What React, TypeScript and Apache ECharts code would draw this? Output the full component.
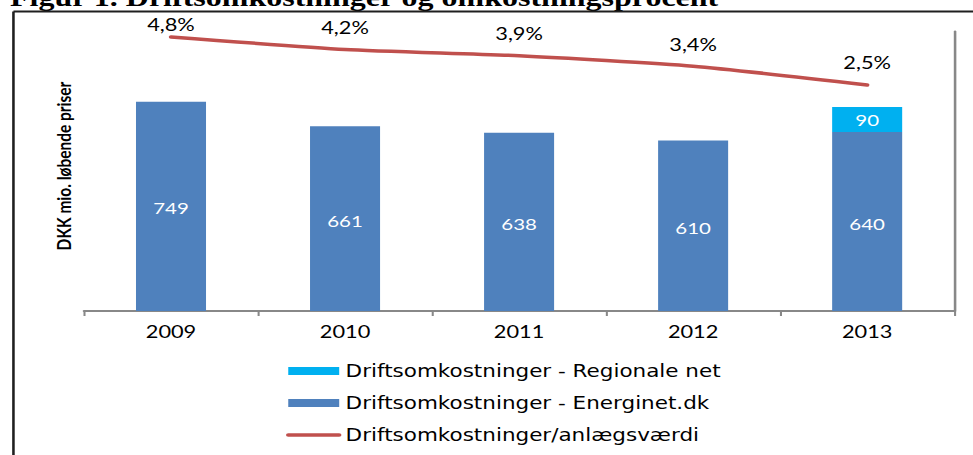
import React, { useEffect, useRef } from "react";
import * as echarts from "echarts";

const categories = ["2009", "2010", "2011", "2012", "2013"];
const energinetValues = [749, 661, 638, 610, 640];
const regionalValues: (number | null)[] = [null, null, null, null, 90];
const ratioValues = [4.8, 4.2, 3.9, 3.4, 2.5];

const seriesNames = {
  regional: "Driftsomkostninger - Regionale net",
  energinet: "Driftsomkostninger - Energinet.dk",
  ratio: "Driftsomkostninger/anlægsværdi",
};
const titleText = "Figur 1. Driftsomkostninger og omkostningsprocent";
const yAxisTitle = "DKK mio. løbende priser";

const W = 760;
const H = 455;
const SX = 973 / W;
const FONT = "Lato, 'Noto Sans', sans-serif";
const LEGEND_FONT = "'DejaVu Sans', 'Open Sans', sans-serif";

export default function App() {
  const ref = useRef<HTMLDivElement>(null);
  useEffect(() => {
    if (!ref.current) return;
    const chart = echarts.init(ref.current, null, { renderer: "svg" });
    chart.setOption({
      animation: false,
      backgroundColor: "#ffffff",
      textStyle: { fontFamily: FONT },
      grid: { left: 65.6, right: 14.7, top: 31.5, bottom: 144, containLabel: false },
      legend: {
        orient: "vertical",
        left: 223.4,
        top: 361,
        padding: 0,
        itemWidth: 39.8,
        itemHeight: 8,
        itemGap: 12,
        textStyle: { fontFamily: LEGEND_FONT, fontSize: 16.8, color: "#000", lineHeight: 20 },
        data: [
          { name: seriesNames.regional, icon: "rect" },
          { name: seriesNames.energinet, icon: "rect" },
          {
            name: seriesNames.ratio,
            itemStyle: { opacity: 0 },
            lineStyle: { width: 3.5, color: "#C0504D" },
          },
        ],
      },
      xAxis: {
        type: "category",
        data: categories,
        axisLine: { onZero: false, lineStyle: { color: "#888888", width: 2 } },
        axisTick: { show: true, length: 5, lineStyle: { color: "#888888", width: 1.6 } },
        axisLabel: { fontFamily: FONT, fontSize: 17, color: "#000", margin: 12 },
      },
      yAxis: [
        {
          type: "value",
          min: 0,
          max: 1000,
          show: false,
          splitLine: { show: false },
        },
        {
          type: "value",
          min: -8.33,
          max: 5.06,
          position: "right",
          axisLine: { show: true, lineStyle: { color: "#888888", width: 2 } },
          axisTick: { show: false },
          axisLabel: { show: false },
          splitLine: { show: false },
        },
      ],
      series: [
        {
          name: seriesNames.energinet,
          type: "bar",
          stack: "total",
          barWidth: 54.7,
          data: energinetValues,
          itemStyle: { color: "#4F81BD" },
          label: {
            show: true,
            position: "inside",
            offset: [0, 2],
            color: "#fff",
            fontFamily: FONT,
            fontSize: 16,
          },
        },
        {
          name: seriesNames.regional,
          type: "bar",
          stack: "total",
          barWidth: 54.7,
          data: regionalValues,
          itemStyle: { color: "#00B0F0" },
          label: {
            show: true,
            position: "inside",
            color: "#fff",
            fontFamily: FONT,
            fontSize: 16,
          },
        },
        {
          name: seriesNames.ratio,
          type: "line",
          yAxisIndex: 1,
          smooth: 0.2,
          symbol: "circle",
          symbolSize: 1,
          showSymbol: true,
          lineStyle: { color: "#C0504D", width: 3.5, cap: "round" },
          itemStyle: { color: "#C0504D" },
          data: ratioValues.map((v, i) =>
            i === 0 ? { value: v, label: { distance: 3 } } : v
          ),
          label: {
            show: true,
            position: "top",
            distance: 13,
            color: "#000",
            fontFamily: FONT,
            fontSize: 17,
            formatter: (p: any) => String(p.value).replace(".", ",") + "%",
          },
        },
      ],
      graphic: [
        {
          type: "text",
          x: 7.8,
          y: -3,
          style: {
            text: titleText,
            fontFamily: "'Liberation Serif', 'DejaVu Serif', serif",
            fontWeight: "bold",
            fontSize: 25,
            fill: "#000",
            verticalAlign: "middle",
            align: "left",
          },
        },
        {
          type: "line",
          shape: { x1: 10.5, y1: 11.5, x2: 10.5, y2: 470 },
          style: { stroke: "#1f1f1f", lineWidth: 2 },
        },
        {
          type: "line",
          shape: { x1: 10.5, y1: 11.5, x2: 780, y2: 11.5 },
          style: { stroke: "#1f1f1f", lineWidth: 2 },
        },
        {
          type: "text",
          x: 49.2,
          y: 166,
          rotation: Math.PI / 2,
          style: {
            text: yAxisTitle,
            fontFamily: FONT,
            fontWeight: "bold",
            fontSize: 15.5,
            fill: "#000",
            align: "center",
            verticalAlign: "middle",
          },
        },
      ],
    });
    return () => chart.dispose();
  }, []);
  return (
    <div
      style={{
        position: "fixed",
        left: 0,
        top: 0,
        width: 973,
        height: H,
        overflow: "hidden",
        background: "#fff",
      }}
    >
      <div
        ref={ref}
        style={{
          width: W,
          height: H,
          transform: `scaleX(${SX})`,
          transformOrigin: "0 0",
        }}
      />
    </div>
  );
}
